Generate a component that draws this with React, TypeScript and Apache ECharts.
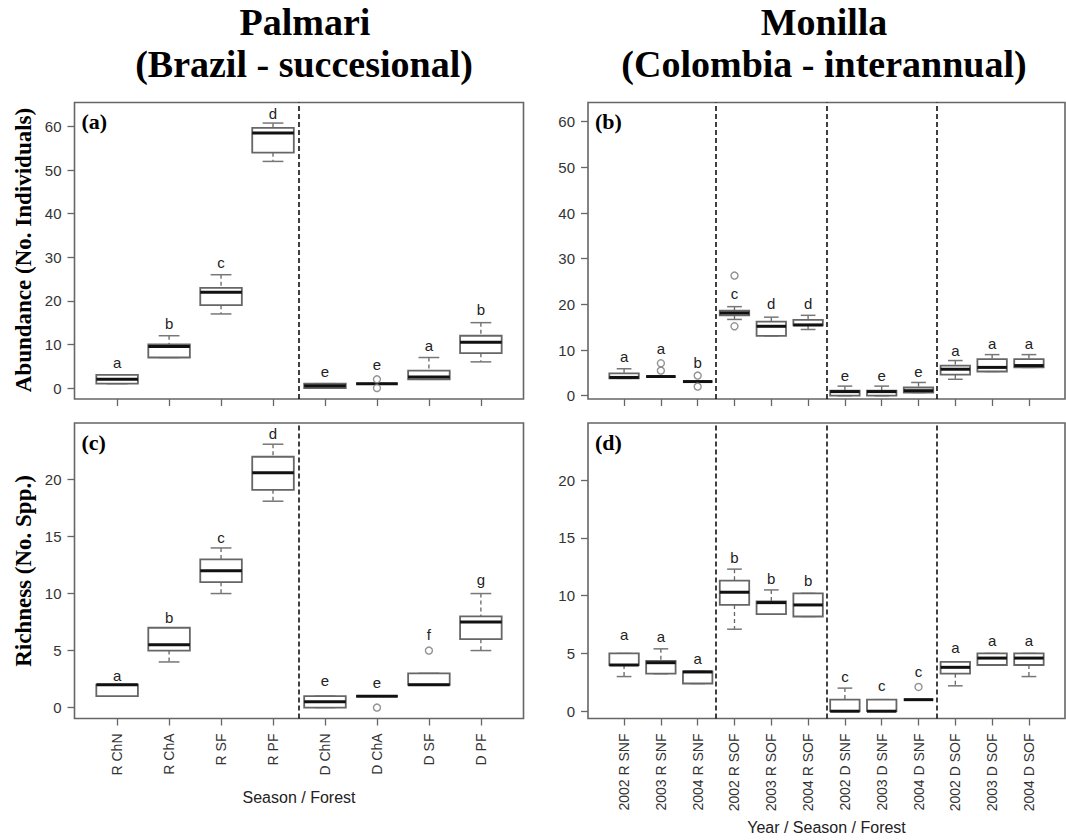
import React, { useEffect, useRef } from 'react';
import * as echarts from 'echarts';

// ---------- DATA ----------
const catsPalmari = ['R ChN', 'R ChA', 'R SF', 'R PF', 'D ChN', 'D ChA', 'D SF', 'D PF'];
const catsMonilla = [
  '2002 R SNF', '2003 R SNF', '2004 R SNF',
  '2002 R SOF', '2003 R SOF', '2004 R SOF',
  '2002 D SNF', '2003 D SNF', '2004 D SNF',
  '2002 D SOF', '2003 D SOF', '2004 D SOF',
];

// each box: [lower whisker, Q1, median, Q3, upper whisker]
const abundPalmari = [
  [1, 1, 2, 3, 3], [7, 7, 9.5, 10, 12], [17, 19, 22, 23, 26], [52, 54, 58.5, 59.7, 60.8],
  [0, 0, 0.5, 1, 1], [1, 1, 1, 1, 1], [2, 2, 2.5, 4, 7], [6, 8, 10.5, 12, 15],
];
const abundPalmariOutliers = [[6, 0], [6, 2]]; // [position, value]
const abundPalmariLetters = ['a', 'b', 'c', 'd', 'e', 'e', 'a', 'b'];
const abundPalmariLetterY = [5.9, 14.7, 28.7, 63.1, 3.75, 5.5, 9.8, 18];

const abundMonilla = [
  [3.8, 3.8, 4.0, 4.9, 5.9], [4.2, 4.2, 4.2, 4.2, 4.2], [3.1, 3.1, 3.1, 3.1, 3.1],
  [16.7, 17.6, 18.1, 18.6, 19.5], [13.1, 13.1, 15.2, 16.2, 17.2], [14.5, 15.4, 15.5, 16.6, 17.6],
  [0, 0, 0.9, 1.1, 2.1], [0, 0, 0.9, 1.1, 2.1], [0.7, 0.7, 1.1, 1.8, 2.9],
  [3.6, 4.6, 5.8, 6.6, 7.7], [5.3, 5.3, 6.2, 8.0, 9.0], [6.2, 6.2, 6.6, 8.0, 9.0],
];
const abundMonillaOutliers = [[2, 5.5], [2, 7.1], [3, 2.0], [3, 4.4], [4, 26.3], [4, 15.2]];
const abundMonillaLetters = ['a', 'a', 'b', 'c', 'd', 'd', 'e', 'e', 'e', 'a', 'a', 'a'];
const abundMonillaLetterY = [8.5, 10.4, 7.2, 22.3, 20.1, 20.1, 4.5, 4.5, 5.3, 9.9, 11.5, 11.5];

const richPalmari = [
  [1, 1, 2, 2, 2], [4, 5, 5.5, 7, 7], [10, 11, 12, 13, 14], [18.1, 19.1, 20.6, 22, 23.1],
  [0, 0, 0.5, 1, 1], [1, 1, 1, 1, 1], [2, 2, 2, 3, 3], [5, 6, 7.5, 8, 10],
];
const richPalmariOutliers = [[6, 0], [7, 5]];
const richPalmariLetters = ['a', 'b', 'c', 'd', 'e', 'e', 'f', 'g'];
const richPalmariLetterY = [2.8, 7.9, 14.9, 24, 2.4, 2.2, 6.4, 11.2];

const richMonilla = [
  [3, 4, 4, 5, 5], [3.25, 3.25, 4.2, 4.35, 5.4], [2.4, 2.4, 3.4, 3.45, 3.45],
  [7.1, 9.2, 10.3, 11.3, 12.3], [8.4, 8.4, 9.4, 9.5, 10.5], [8.2, 8.2, 9.2, 10.2, 10.2],
  [0, 0, 0, 1, 2], [0, 0, 0, 1, 1], [1, 1, 1, 1, 1],
  [2.2, 3.25, 3.8, 4.27, 4.27], [4, 4, 4.6, 5, 5], [3, 4, 4.6, 5, 5],
];
const richMonillaOutliers = [[9, 2.1]];
const richMonillaLetters = ['a', 'a', 'a', 'b', 'b', 'b', 'c', 'c', 'c', 'a', 'a', 'a'];
const richMonillaLetterY = [6.6, 6.5, 4.6, 13.3, 11.5, 11.3, 3.0, 2.2, 3.4, 5.5, 6.1, 6.1];

const abundTicks = [0, 10, 20, 30, 40, 50, 60];
const richTicks = [0, 5, 10, 15, 20];
const palmariSeparators = [4.5];
const monillaSeparators = [3.5, 6.5, 9.5];

// ---------- LAYOUT / STYLE ----------
const SANS = '"Liberation Sans", Arial, sans-serif';
const SERIF = '"Liberation Serif", "Times New Roman", serif';
const BOX_W = 0.8;
const L1 = 74.5, W1 = 449, L2 = 588, W2 = 477;
const T1 = 102.5, H1 = 296.5, T2 = 423, H2 = 295.5;

function boxSeries(idx: number, boxes: number[][], letters: string[], letterY: number[]) {
  return {
    type: 'custom',
    xAxisIndex: idx,
    yAxisIndex: idx,
    silent: true,
    data: boxes.map((b, i) => [i + 1, b[0], b[1], b[2], b[3], b[4], letterY[i]]),
    renderItem: (params: any, api: any) => {
      const x = api.value(0);
      const lo = api.value(1), q1 = api.value(2), med = api.value(3), q3 = api.value(4), hi = api.value(5);
      const ly = api.value(6);
      const bw = api.size([BOX_W, 0])[0];
      const pLo = api.coord([x, lo]);
      const pQ1 = api.coord([x, q1]);
      const pMed = api.coord([x, med]);
      const pQ3 = api.coord([x, q3]);
      const pHi = api.coord([x, hi]);
      const pL = api.coord([x, ly]);
      const cx = pLo[0];
      const half = bw / 2;
      const st = bw / 4;
      const children: any[] = [];
      const wStyle = { stroke: '#666', lineWidth: 1.3, lineDash: [4, 3] };
      const sStyle = { stroke: '#777', lineWidth: 1.5 };
      if (hi > q3) {
        children.push({ type: 'line', shape: { x1: cx, y1: pHi[1], x2: cx, y2: pQ3[1] }, style: wStyle });
      }
      if (lo < q1) {
        children.push({ type: 'line', shape: { x1: cx, y1: pQ1[1], x2: cx, y2: pLo[1] }, style: wStyle });
      }
      children.push({ type: 'line', shape: { x1: cx - st, y1: pHi[1], x2: cx + st, y2: pHi[1] }, style: sStyle });
      children.push({ type: 'line', shape: { x1: cx - st, y1: pLo[1], x2: cx + st, y2: pLo[1] }, style: sStyle });
      children.push({
        type: 'rect',
        shape: { x: cx - half, y: pQ3[1], width: bw, height: pQ1[1] - pQ3[1] },
        style: { fill: '#fff', stroke: '#666', lineWidth: 1.8 },
      });
      children.push({
        type: 'line',
        shape: { x1: cx - half, y1: pMed[1], x2: cx + half, y2: pMed[1] },
        style: { stroke: '#111', lineWidth: 3 },
      });
      children.push({
        type: 'text',
        x: cx,
        y: pL[1],
        style: {
          text: letters[params.dataIndex],
          align: 'center',
          verticalAlign: 'middle',
          fontSize: 15,
          fontFamily: SANS,
          fill: '#222',
        },
      });
      return { type: 'group', children };
    },
  };
}

function outlierSeries(idx: number, outliers: number[][], seps: number[]) {
  return {
    type: 'scatter',
    xAxisIndex: idx,
    yAxisIndex: idx,
    silent: true,
    data: outliers.map((o) => [o[0], o[1]]),
    symbol: 'circle',
    symbolSize: 7,
    itemStyle: { color: '#fff', borderColor: '#777', borderWidth: 1.4 },
    markLine: {
      silent: true,
      symbol: ['none', 'none'],
      label: { show: false },
      lineStyle: { color: '#111', width: 1.6, type: [5, 3] },
      data: seps.map((s) => ({ xAxis: s })),
    },
  };
}

function xAxis(idx: number, cats: string[], showLabels: boolean) {
  const n = cats.length;
  const positions = cats.map((_, i) => i + 1);
  return {
    type: 'value',
    gridIndex: idx,
    min: n === 8 ? 0.18 : 0.02,
    max: n === 8 ? 8.82 : 12.98,
    axisLine: { show: false, onZero: false },
    splitLine: { show: false },
    axisTick: { show: true, customValues: positions, length: 7, lineStyle: { color: '#666', width: 1.3 } },
    axisLabel: {
      show: showLabels,
      customValues: positions,
      formatter: (v: number) => cats[Math.round(v) - 1] || '',
      rotate: 90,
      fontSize: 14,
      fontFamily: SANS,
      color: '#333',
      margin: 15,
    },
  };
}

function yAxis(idx: number, min: number, max: number, ticks: number[]) {
  return {
    type: 'value',
    gridIndex: idx,
    min,
    max,
    axisLine: { show: false, onZero: false },
    splitLine: { show: false },
    axisTick: { show: true, customValues: ticks, length: 7, lineStyle: { color: '#666', width: 1.3 } },
    axisLabel: { customValues: ticks, fontSize: 15, fontFamily: SANS, color: '#333', margin: 13 },
  };
}

export default function App() {
  const ref = useRef<HTMLDivElement>(null);
  useEffect(() => {
    if (!ref.current) return;
    const chart = echarts.init(ref.current, null, { renderer: 'svg' });
    const gridBase = { show: true, borderColor: '#666', borderWidth: 1.6, backgroundColor: '#fff', containLabel: false };
    const titleStyle = { fontSize: 38, fontWeight: 'bold', fontFamily: SERIF, fill: '#000', align: 'center', verticalAlign: 'middle' };
    const option: any = {
      animation: false,
      backgroundColor: '#fff',
      grid: [
        { ...gridBase, left: L1, top: T1, width: W1, height: H1 },
        { ...gridBase, left: L2, top: T1, width: W2, height: H1 },
        { ...gridBase, left: L1, top: T2, width: W1, height: H2 },
        { ...gridBase, left: L2, top: T2, width: W2, height: H2 },
      ],
      xAxis: [
        xAxis(0, catsPalmari, false),
        xAxis(1, catsMonilla, false),
        xAxis(2, catsPalmari, true),
        xAxis(3, catsMonilla, true),
      ],
      yAxis: [
        yAxis(0, -2.52, 65.52, abundTicks),
        yAxis(1, -0.72, 64.2, abundTicks),
        yAxis(2, -0.96, 24.96, richTicks),
        yAxis(3, -0.63, 24.95, richTicks),
      ],
      series: [
        boxSeries(0, abundPalmari, abundPalmariLetters, abundPalmariLetterY),
        outlierSeries(0, abundPalmariOutliers, palmariSeparators),
        boxSeries(1, abundMonilla, abundMonillaLetters, abundMonillaLetterY),
        outlierSeries(1, abundMonillaOutliers, monillaSeparators),
        boxSeries(2, richPalmari, richPalmariLetters, richPalmariLetterY),
        outlierSeries(2, richPalmariOutliers, palmariSeparators),
        boxSeries(3, richMonilla, richMonillaLetters, richMonillaLetterY),
        outlierSeries(3, richMonillaOutliers, monillaSeparators),
      ],
      graphic: [
        { type: 'text', x: 305, y: 22, style: { ...titleStyle, text: 'Palmari' } },
        { type: 'text', x: 304, y: 64, style: { ...titleStyle, text: '(Brazil - succesional)' } },
        { type: 'text', x: 824, y: 22, style: { ...titleStyle, text: 'Monilla' } },
        { type: 'text', x: 824, y: 64, style: { ...titleStyle, text: '(Colombia - interannual)' } },
        { type: 'text', x: 23, y: 250, rotation: Math.PI / 2, style: { text: 'Abundance (No. Individuals)', fontSize: 23, fontWeight: 'bold', fontFamily: SERIF, fill: '#000', align: 'center', verticalAlign: 'middle' } },
        { type: 'text', x: 23, y: 571, rotation: Math.PI / 2, style: { text: 'Richness (No. Spp.)', fontSize: 23, fontWeight: 'bold', fontFamily: SERIF, fill: '#000', align: 'center', verticalAlign: 'middle' } },
        { type: 'text', x: L1 + 7, y: T1 + 19, style: { text: '(a)', fontSize: 22, fontWeight: 'bold', fontFamily: SERIF, fill: '#000', align: 'left', verticalAlign: 'middle' } },
        { type: 'text', x: L2 + 7, y: T1 + 19, style: { text: '(b)', fontSize: 22, fontWeight: 'bold', fontFamily: SERIF, fill: '#000', align: 'left', verticalAlign: 'middle' } },
        { type: 'text', x: L1 + 7, y: T2 + 19, style: { text: '(c)', fontSize: 22, fontWeight: 'bold', fontFamily: SERIF, fill: '#000', align: 'left', verticalAlign: 'middle' } },
        { type: 'text', x: L2 + 7, y: T2 + 19, style: { text: '(d)', fontSize: 22, fontWeight: 'bold', fontFamily: SERIF, fill: '#000', align: 'left', verticalAlign: 'middle' } },
        { type: 'text', x: L1 + W1 / 2, y: 797, style: { text: 'Season / Forest', fontSize: 16, fontFamily: SANS, fill: '#222', align: 'center', verticalAlign: 'middle' } },
        { type: 'text', x: L2 + W2 / 2, y: 827, style: { text: 'Year / Season / Forest', fontSize: 16, fontFamily: SANS, fill: '#222', align: 'center', verticalAlign: 'middle' } },
      ],
    };
    chart.setOption(option);
    return () => chart.dispose();
  }, []);
  return (
    <div
      ref={ref}
      style={{ position: 'fixed', left: 0, top: 0, width: 1066, height: 840, background: '#fff' }}
    />
  );
}
